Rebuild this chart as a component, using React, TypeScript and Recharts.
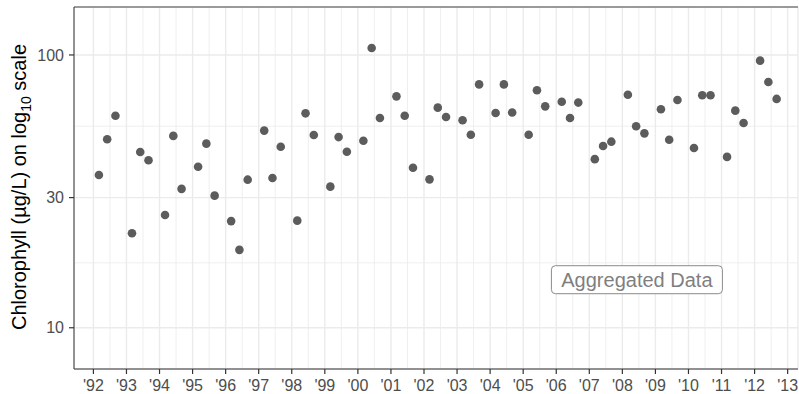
import {
  ScatterChart,
  Scatter,
  XAxis,
  YAxis,
  CartesianGrid,
  ReferenceLine,
  ReferenceDot,
} from "recharts";

const years = [
  1992, 1993, 1994, 1995, 1996, 1997, 1998, 1999, 2000, 2001, 2002, 2003, 2004,
  2005, 2006, 2007, 2008, 2009, 2010, 2011, 2012,
];
const sampleMonths = [3, 6, 9];

// chlorophyll (ug/L) per sampling month, one value per year
const marchChl = [
  36.3, 22.2, 25.9, 38.9, 24.6, 52.8, 24.7, 32.9, 48.5, 70.5, 35.0, 57.6, 61.3,
  51.0, 67.4, 41.5, 71.5, 63.2, 45.6, 42.3, 95.3,
];
const juneChl = [
  49.1, 44.1, 50.5, 47.3, 19.3, 35.4, 61.1, 50.0, 106.1, 59.9, 64.1, 51.0, 78.0,
  74.2, 58.7, 46.4, 54.8, 48.9, 71.2, 62.5, 79.6,
];
const septChl = [
  59.9, 41.1, 32.3, 30.5, 34.9, 46.1, 50.9, 44.2, 58.7, 38.6, 59.2, 78.0, 61.5,
  64.8, 66.9, 48.1, 51.6, 68.4, 71.2, 56.3, 69.0,
];

const xTicks = [
  1992, 1993, 1994, 1995, 1996, 1997, 1998, 1999, 2000, 2001, 2002, 2003, 2004,
  2005, 2006, 2007, 2008, 2009, 2010, 2011, 2012, 2013,
];
const xMinor = [
  1992.5, 1993.5, 1994.5, 1995.5, 1996.5, 1997.5, 1998.5, 1999.5, 2000.5,
  2001.5, 2002.5, 2003.5, 2004.5, 2005.5, 2006.5, 2007.5, 2008.5, 2009.5,
  2010.5, 2011.5, 2012.5,
];
const yTicks = [10, 30, 100];
const yMinor = [17.3, 54.8];

const xDomain = [1991.413, 2013.313];
const yDomain = [7.06, 149.9];

const noteText = "Aggregated Data";
const noteX = 2008.44;
const noteY = 15;

const seasons = [marchChl, juneChl, septChl];
const data = years.flatMap((yr, i) =>
  sampleMonths.map((m, j) => ({
    date: yr + (m - 1) / 12,
    chl: seasons[j][i],
  }))
);

const FONT = "'Liberation Sans', Arial, Helvetica, sans-serif";
const GRID = "#ebebeb";
const AXIS = "#333333";
const TICK_TEXT = "#4d4d4d";

// plot panel edges in px
const PANEL_LEFT = 74;
const PANEL_BOTTOM = 369;

function YTitle() {
  return (
    <text
      x={26}
      y={187}
      transform="rotate(-90, 26, 187)"
      textAnchor="middle"
      fontFamily={FONT}
      fontSize={20}
      fill="#000"
    >
      Chlorophyll (µg/L) on log
      <tspan fontSize={14} dy={4.5}>
        10
      </tspan>
      <tspan dy={-4.5}> scale</tspan>
    </text>
  );
}

function XTick(props: any) {
  const { x, payload } = props;
  return (
    <g>
      <line
        x1={x}
        x2={x}
        y1={PANEL_BOTTOM}
        y2={PANEL_BOTTOM + 5}
        stroke={AXIS}
        strokeWidth={1.2}
      />
      <text
        x={x}
        y={PANEL_BOTTOM + 21.5}
        textAnchor="middle"
        fontFamily={FONT}
        fontSize={16}
        fill={TICK_TEXT}
      >
        {"'" + String(payload.value).slice(2)}
      </text>
    </g>
  );
}

function YTick(props: any) {
  const { y, payload } = props;
  return (
    <g>
      <line
        x1={PANEL_LEFT - 5}
        x2={PANEL_LEFT}
        y1={y}
        y2={y}
        stroke={AXIS}
        strokeWidth={1.2}
      />
      <text
        x={PANEL_LEFT - 10}
        y={y + 5.7}
        textAnchor="end"
        fontFamily={FONT}
        fontSize={16}
        fill={TICK_TEXT}
      >
        {payload.value}
      </text>
    </g>
  );
}

function NoteShape(props: any) {
  const { cx, cy } = props;
  const w = 171;
  const h = 28;
  return (
    <g>
      <rect
        x={cx - w / 2}
        y={cy - h / 2}
        width={w}
        height={h}
        rx={4}
        ry={4}
        fill="#fff"
        stroke="#8a8a8a"
        strokeWidth={1}
      />
      <text
        x={cx}
        y={cy + 7}
        textAnchor="middle"
        fontFamily={FONT}
        fontSize={20}
        fill="#7f7f7f"
      >
        {noteText}
      </text>
    </g>
  );
}

function Dot(props: any) {
  return <circle cx={props.cx} cy={props.cy} r={4.3} fill="#5c5c5c" />;
}

export default function App() {
  return (
    <div style={{ position: "absolute", left: 0, top: 0, background: "#fff" }}>
      <ScatterChart
        width={799}
        height={394}
        margin={{ top: 7, right: 1, bottom: 0, left: 0 }}
      >
        <CartesianGrid stroke={GRID} strokeWidth={1.4} />
        {xMinor.map((v) => (
          <ReferenceLine key={"xm" + v} x={v} stroke={GRID} strokeWidth={0.8} />
        ))}
        {yMinor.map((v) => (
          <ReferenceLine key={"ym" + v} y={v} stroke={GRID} strokeWidth={0.8} />
        ))}
        <ReferenceLine y={yDomain[1]} stroke="#444" strokeWidth={1} />
        <XAxis
          type="number"
          dataKey="date"
          domain={xDomain}
          allowDataOverflow
          ticks={xTicks}
          interval={0}
          height={25}
          tickLine={false}
          stroke={AXIS}
          tick={<XTick />}
        />
        <YAxis
          type="number"
          dataKey="chl"
          scale="log"
          domain={yDomain}
          allowDataOverflow
          ticks={yTicks}
          interval={0}
          width={74}
          tickLine={false}
          stroke={AXIS}
          tick={<YTick />}
          label={<YTitle />}
        />
        <ReferenceDot x={noteX} y={noteY} r={0} shape={NoteShape} />
        <Scatter data={data} shape={Dot} isAnimationActive={false} />
      </ScatterChart>
    </div>
  );
}
